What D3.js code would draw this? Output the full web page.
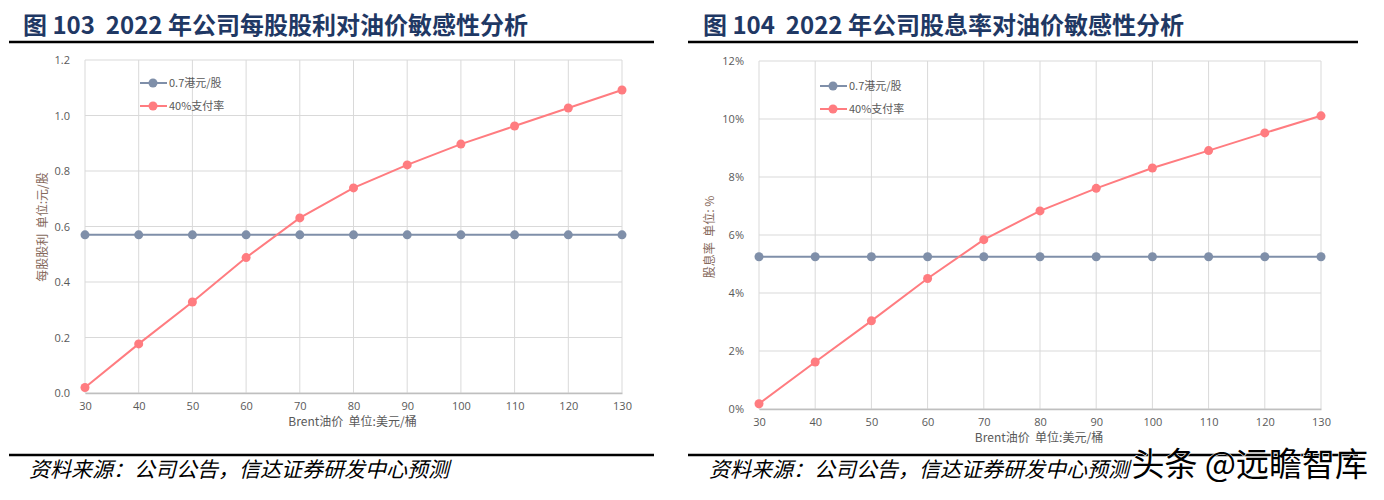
<!DOCTYPE html>
<html>
<head>
<meta charset="utf-8">
<script src="https://d3js.org/d3.v7.min.js"></script>
<style>
    body { margin: 0; background: #fff; }
    text { font-family: "Noto Sans CJK SC", "Noto Sans", sans-serif; white-space: pre; }
</style>
</head>
<body>
<svg id="chart" width="1384" height="500"></svg>
<script>
// Brent oil price, USD/bbl
const oilPrice = [30, 40, 50, 60, 70, 80, 90, 100, 110, 120, 130];
const seriesNames = ["0.7港元/股", "40%支付率"];

// chart 103: dividend per share (元/股)
const dpsFixed = [0.57, 0.57, 0.57, 0.57, 0.57, 0.57, 0.57, 0.57, 0.57, 0.57, 0.57];
const dpsPayout = [0.02, 0.177, 0.328, 0.488, 0.631, 0.739, 0.822, 0.897, 0.962, 1.027, 1.092];
const dpsTicks = [0, 0.2, 0.4, 0.6, 0.8, 1.0, 1.2];

// chart 104: dividend yield (%)
const yieldFixed = [5.25, 5.25, 5.25, 5.25, 5.25, 5.25, 5.25, 5.25, 5.25, 5.25, 5.25];
const yieldPayout = [0.18, 1.62, 3.04, 4.5, 5.84, 6.83, 7.61, 8.31, 8.91, 9.52, 10.11];
const yieldTicks = [0, 2, 4, 6, 8, 10, 12];

const colors = ["#7f8fa9", "#ff7c80"];
const svg = d3.select("#chart");

function drawPanel(p) {
    // title + rules
    svg.append("text")
        .attr("x", p.titleX).attr("y", 34)
        .attr("font-size", 24).attr("font-weight", "bold")
        .attr("fill", "#1f3864")
        .text(p.title);
    svg.append("line").attr("x1", p.ruleX0).attr("x2", p.ruleX1)
        .attr("y1", 42).attr("y2", 42).attr("stroke", "#000").attr("stroke-width", 2.5);
    svg.append("line").attr("x1", p.ruleX0).attr("x2", p.ruleX1)
        .attr("y1", 455).attr("y2", 455).attr("stroke", "#000").attr("stroke-width", 2.5);
    svg.append("text")
        .attr("x", p.titleX + 6).attr("y", 477)
        .attr("font-size", 21).attr("font-style", "italic")
        .attr("fill", "#000")
        .text("资料来源：公司公告，信达证券研发中心预测");

    const x = d3.scaleLinear().domain([30, 130]).range([p.left, p.right]);
    const y = d3.scaleLinear().domain([0, p.ticks[p.ticks.length - 1]]).range([p.bottom, p.top]);

    // grid
    svg.append("g").selectAll("line").data(oilPrice).enter().append("line")
        .attr("x1", d => x(d)).attr("x2", d => x(d))
        .attr("y1", p.top).attr("y2", p.bottom)
        .attr("stroke", "#d9d9d9");
    svg.append("g").selectAll("line").data(p.ticks).enter().append("line")
        .attr("x1", p.left).attr("x2", p.right)
        .attr("y1", d => y(d)).attr("y2", d => y(d))
        .attr("stroke", "#d9d9d9");

    // axes
    const ya = svg.append("g")
        .attr("transform", "translate(" + (p.left - 12) + ",0)")
        .call(d3.axisLeft(y).tickValues(p.ticks).tickSize(0).tickFormat(p.fmt));
    ya.select(".domain").remove();
    ya.selectAll("text").attr("font-size", 11).attr("fill", "#595959")
        .style("font-family", "Open Sans, sans-serif");

    const xa = svg.append("g")
        .attr("transform", "translate(0," + p.bottom + ")")
        .call(d3.axisBottom(x).tickValues(oilPrice).tickSize(0).tickFormat(d => d));
    xa.select(".domain").attr("stroke", "#bfbfbf").attr("stroke-width", 1.5);
    xa.selectAll("text").attr("font-size", 11).attr("fill", "#595959")
        .attr("dy", "1.25em")
        .style("font-family", "Open Sans, sans-serif");

    svg.append("text")
        .attr("x", (p.left + p.right) / 2 - 1).attr("y", p.bottom + 33)
        .attr("text-anchor", "middle").attr("font-size", 12).attr("fill", "#595959")
        .text("Brent油价  单位:美元/桶");
    svg.append("text")
        .attr("transform", "translate(" + p.yTitleX + "," + p.yTitleY + ") rotate(-90)")
        .attr("text-anchor", "middle").attr("font-size", 12).attr("fill", "#86695b")
        .text(p.yTitle);

    // series
    const line = d3.line().x((d, i) => x(oilPrice[i])).y(d => y(d));
    p.series.forEach((s, k) => {
        svg.append("path").datum(s)
            .attr("d", line).attr("fill", "none")
            .attr("stroke", colors[k]).attr("stroke-width", 2);
        svg.append("g").selectAll("circle").data(s).enter().append("circle")
            .attr("cx", (d, i) => x(oilPrice[i])).attr("cy", d => y(d))
            .attr("r", 4.5).attr("fill", colors[k]);
    });

    // legend
    seriesNames.forEach((name, k) => {
        const ly = p.legendY + k * 23;
        svg.append("line").attr("x1", p.legendX).attr("x2", p.legendX + 27)
            .attr("y1", ly).attr("y2", ly)
            .attr("stroke", colors[k]).attr("stroke-width", 2);
        svg.append("circle").attr("cx", p.legendX + 13).attr("cy", ly)
            .attr("r", 4.5).attr("fill", colors[k]);
        svg.append("text").attr("x", p.legendX + 29).attr("y", ly + 4)
            .attr("font-size", 11).attr("fill", "#595959")
            .text(name);
    });
}

drawPanel({
    title: "图 103  2022 年公司每股股利对油价敏感性分析",
    titleX: 23, ruleX0: 9, ruleX1: 654,
    left: 85, right: 622, top: 60, bottom: 393,
    ticks: dpsTicks, fmt: d3.format(".1f"),
    series: [dpsFixed, dpsPayout],
    yTitle: "每股股利  单位:元/股", yTitleX: 47, yTitleY: 227,
    legendX: 140, legendY: 83
});

drawPanel({
    title: "图 104  2022 年公司股息率对油价敏感性分析",
    titleX: 703, ruleX0: 688, ruleX1: 1358,
    left: 759, right: 1321, top: 61, bottom: 409,
    ticks: yieldTicks, fmt: d => d + "%",
    series: [yieldFixed, yieldPayout],
    yTitle: "股息率  单位: %", yTitleX: 714, yTitleY: 237,
    legendX: 820, legendY: 86
});

// watermark
svg.append("text")
    .attr("x", 1368).attr("y", 476).attr("text-anchor", "end")
    .attr("font-size", 33).attr("fill", "#000")
    .attr("stroke", "#fff").attr("stroke-width", 1.2).attr("paint-order", "stroke")
    .text("头条 @远瞻智库");
</script>
</body>
</html>
